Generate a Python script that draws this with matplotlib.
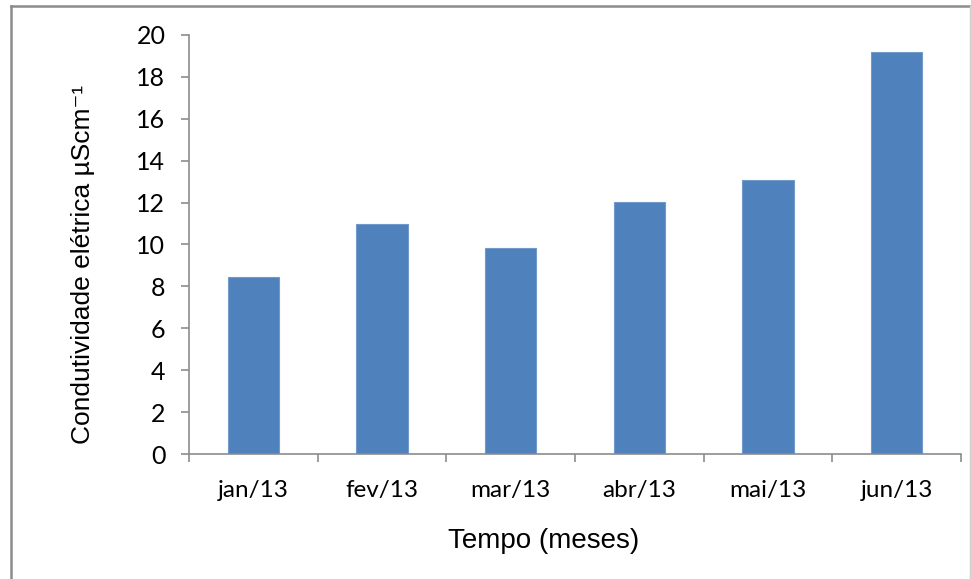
import matplotlib.pyplot as plt
from matplotlib.lines import Line2D
import numpy as np

months = ["jan/13", "fev/13", "mar/13", "abr/13", "mai/13", "jun/13"]
conductivity = [8.46, 10.98, 9.82, 12.01, 13.08, 19.17]
y_ticks = list(range(0, 21, 2))

W, H = 971, 579
fig = plt.figure(figsize=(W / 100, H / 100), dpi=100)
ax = fig.add_axes([189 / W, 1 - 454 / H, (961 - 189) / W, (454 - 35) / H])

x = np.arange(len(months))
ax.bar(x, conductivity, width=0.4, color="#4F81BD", edgecolor="#7199CC", linewidth=0.8)

ax.set_xlim(-0.5, len(months) - 0.5)
ax.set_ylim(0, 20)
ax.set_yticks(y_ticks)
ax.set_yticklabels([str(t) for t in y_ticks], fontfamily="Lato", fontsize=18)
ax.set_xticks(x)
ax.set_xticklabels(months, fontfamily="Lato", fontsize=17.5)
ax.set_xticks(np.arange(-0.5, len(months)), minor=True)

for s in ["top", "right"]:
    ax.spines[s].set_visible(False)
for s in ["left", "bottom"]:
    ax.spines[s].set_color("#8C8C8C")
    ax.spines[s].set_linewidth(1.2)

ax.tick_params(axis="y", direction="out", length=6, width=1.2, color="#8C8C8C", pad=11)
ax.tick_params(axis="x", which="major", length=0, pad=19)
ax.tick_params(axis="x", which="minor", direction="out", length=6, width=1.2, color="#8C8C8C")

fig.text(544 / W, 1 - 541 / H, "Tempo (meses)", ha="center", va="center",
         fontfamily="Liberation Sans", fontsize=20)
fig.text(83 / W, 1 - 264 / H, "Condutividade elétrica µScm⁻¹", ha="center", va="center",
         rotation=90, fontfamily=["Liberation Sans", "DejaVu Sans"], fontsize=19)

# outer chart frame
fig.add_artist(Line2D([11 / W, 11 / W], [0, 1 - 6 / H], transform=fig.transFigure,
                      color="#8C8C8C", linewidth=1.8))
fig.add_artist(Line2D([11 / W, 970 / W], [1 - 6 / H, 1 - 6 / H], transform=fig.transFigure,
                      color="#8C8C8C", linewidth=1.8))
fig.add_artist(Line2D([970 / W, 970 / W], [0, 1 - 6 / H], transform=fig.transFigure,
                      color="#D0D0D0", linewidth=1))

fig.savefig("out.png", dpi=100, facecolor="white")
